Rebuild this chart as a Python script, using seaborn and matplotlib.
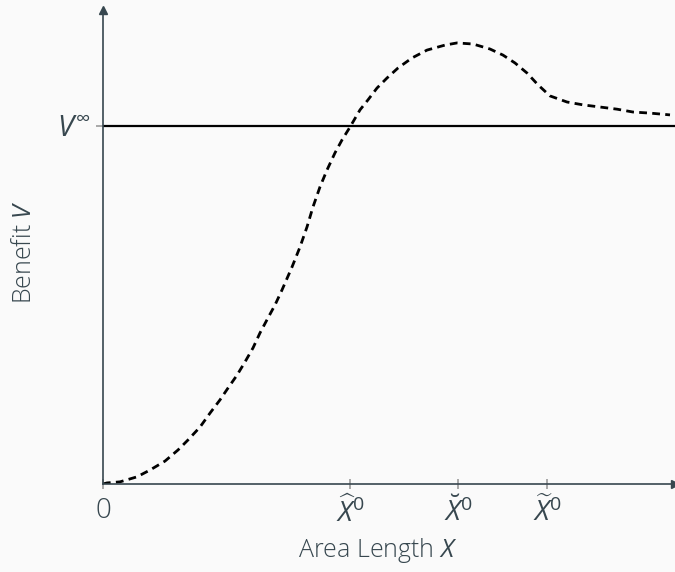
import numpy as np
import matplotlib
matplotlib.use("Agg")
import matplotlib.pyplot as plt
import seaborn as sns

# benefit curve (x in area-length units, V in units of V_inf)
area_x = [0.00, 0.04, 0.17, 0.34, 0.47, 0.62, 0.75, 0.85, 0.97, 1.07, 1.17, 1.25,
          1.34, 1.42, 1.50, 1.57, 1.65, 1.72, 1.79, 1.89, 1.97, 2.04, 2.10, 2.17,
          2.24, 2.32, 2.39, 2.47, 2.57, 2.65, 2.74, 2.84, 2.95, 3.09, 3.24, 3.42,
          3.54, 3.70, 3.87, 4.00, 4.12, 4.24, 4.35, 4.47, 4.64, 4.80, 4.97, 5.14,
          5.30, 5.47, 5.67]
benefit_v = [0.000, 0.003, 0.006, 0.020, 0.039, 0.064, 0.095, 0.123, 0.159, 0.198,
             0.235, 0.268, 0.304, 0.341, 0.380, 0.422, 0.464, 0.500, 0.542, 0.606,
             0.662, 0.718, 0.774, 0.830, 0.877, 0.925, 0.961, 0.997, 1.045, 1.073,
             1.106, 1.134, 1.162, 1.190, 1.212, 1.226, 1.232, 1.229, 1.215, 1.198,
             1.176, 1.148, 1.115, 1.084, 1.067, 1.059, 1.053, 1.047, 1.039, 1.036,
             1.031]
v_inf = 1.0

tick_pos = [0, 2.47, 3.55, 4.44]
tick_labels = ["0", r"$\widehat{X}^0$", r"$\breve{X}^0$", r"${\widetilde{X}}^0$"]

sns.set_theme(style="ticks")
ink = "#37474f"
plt.rcParams["font.family"] = ["Open Sans", "DejaVu Sans"]
plt.rcParams["mathtext.fontset"] = "custom"
plt.rcParams["mathtext.rm"] = "Open Sans"
plt.rcParams["mathtext.it"] = "Open Sans:italic"
plt.rcParams["text.color"] = ink

fig = plt.figure(figsize=(6.75, 5.72), dpi=100, facecolor="#fafafa")
ax = fig.add_axes([103 / 675, 88 / 572, 572 / 675, 474 / 572])
ax.set_facecolor("#fafafa")

sns.lineplot(x=area_x, y=benefit_v, ax=ax, color="black", lw=2.0,
             linestyle=(0, (2.8, 1.9)))
ax.axhline(v_inf, color="black", lw=1.6)

ax.set_xlim(0, 5.72)
ax.set_ylim(0, 1.324)

for s in ["top", "right"]:
    ax.spines[s].set_visible(False)
for s in ["left", "bottom"]:
    ax.spines[s].set_color(ink)
    ax.spines[s].set_linewidth(1.2)

# arrow heads at the axis ends
ax.plot(1, 0, ">", color=ink, ms=6, transform=ax.transAxes, clip_on=False)
ax.plot(0, 1, "^", color=ink, ms=6, transform=ax.transAxes, clip_on=False)

ax.set_xticks(tick_pos)
ax.set_xticklabels(tick_labels, fontsize=20, color=ink, fontweight="light")
ax.set_yticks([v_inf])
ax.set_yticklabels([r"$V^{\infty}$"], fontsize=21, color=ink)
ax.tick_params(axis="x", direction="inout", length=7, color="#9e9e9e", pad=6)
ax.tick_params(axis="y", direction="out", length=5, color="#9e9e9e", pad=4)

ax.set_xlabel("Area Length $X$", fontsize=18, color=ink, fontweight="light")
ax.set_ylabel("Benefit $V$", fontsize=18, color=ink, fontweight="light")
ax.xaxis.set_label_coords(0.48, -0.11)
ax.yaxis.set_label_coords(-0.115, 0.49)

fig.savefig("out.png", dpi=100, facecolor=fig.get_facecolor())
